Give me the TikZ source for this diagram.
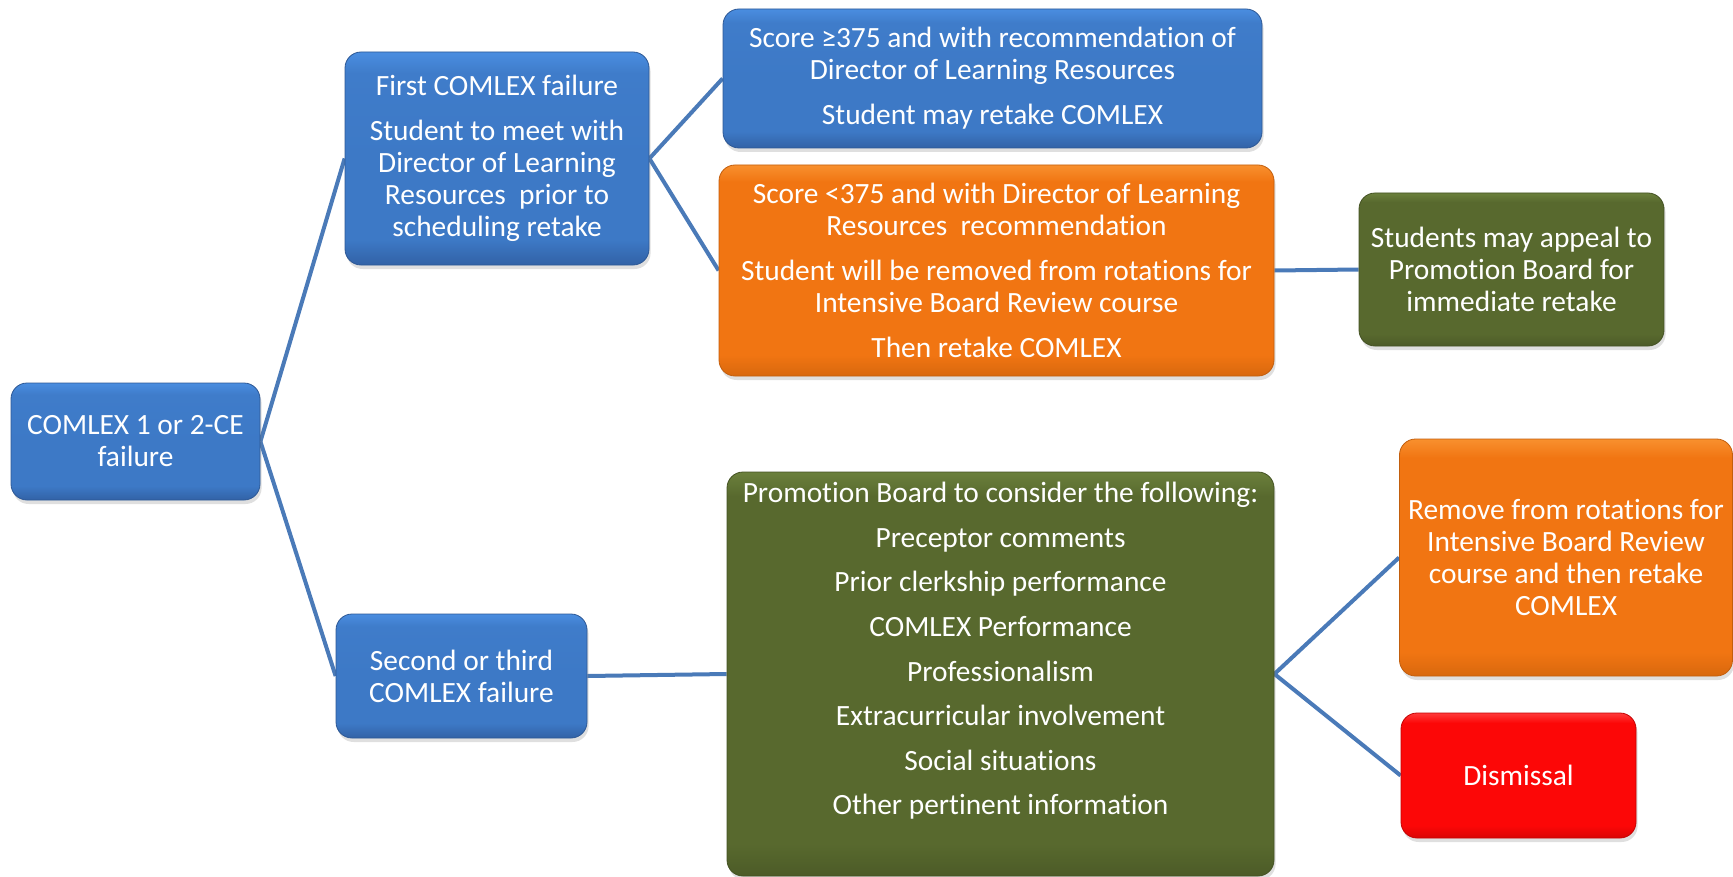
\documentclass[tikz,border=0pt]{standalone}
\usepackage{fontspec}
\setmainfont{Carlito}[Ligatures=ResetAll,RawFeature={-liga;-clig;-dlig;-calt}]
\usetikzlibrary{shadows,backgrounds}
\definecolor{bluetop}{HTML}{4A8DE0}
\definecolor{bluemid}{HTML}{3D79C6}
\definecolor{bluebot}{HTML}{3262A6}
\definecolor{orgtop}{HTML}{F8902E}
\definecolor{orgmid}{HTML}{F17512}
\definecolor{orgbot}{HTML}{D8680E}
\definecolor{grntop}{HTML}{6B803C}
\definecolor{grnmid}{HTML}{58692E}
\definecolor{grnbot}{HTML}{4C5B27}
\definecolor{redtop}{HTML}{FF3A3A}
\definecolor{redmid}{HTML}{FC0707}
\definecolor{redbot}{HTML}{DA0505}
\definecolor{linkc}{HTML}{4A7AB8}
\pgfdeclareverticalshading{blueshade}{100bp}{color(0bp)=(bluebot); color(25bp)=(bluebot); color(31bp)=(bluemid); color(50bp)=(bluemid); color(70bp)=(bluemid!85!bluetop); color(75bp)=(bluetop); color(100bp)=(bluetop)}
\pgfdeclareverticalshading{orgshade}{100bp}{color(0bp)=(orgbot); color(25bp)=(orgbot); color(30bp)=(orgmid); color(71bp)=(orgmid); color(75bp)=(orgtop); color(100bp)=(orgtop)}
\pgfdeclareverticalshading{grnshade}{100bp}{color(0bp)=(grnbot); color(25bp)=(grnbot); color(29bp)=(grnmid); color(72bp)=(grnmid); color(75bp)=(grntop); color(100bp)=(grntop)}
\pgfdeclareverticalshading{redshade}{100bp}{color(0bp)=(redbot); color(25bp)=(redbot); color(30bp)=(redmid); color(71bp)=(redmid); color(75bp)=(redtop); color(100bp)=(redtop)}
\tikzset{
  box/.style={rounded corners=8pt, align=center, text=white, inner sep=0pt,
    font=\fontsize{14.7}{16}\selectfont, line width=0.4pt,
    drop shadow={shadow xshift=0.8pt, shadow yshift=-2pt, opacity=0.25}},
  bluebox/.style={box, shading=blueshade, draw=bluebot!90!black},
  orgbox/.style={box, shading=orgshade, draw=orgbot!90!black},
  grnbox/.style={box, shading=grnshade, draw=grnbot!90!black},
  redbox/.style={box, shading=redshade, draw=redbot!90!black},
  link/.style={draw=linkc, line width=2pt},
  boxtext/.style={align=center, text=white, inner sep=0pt, font=\fontsize{14.7}{16}\selectfont}
}
\begin{document}
\begin{tikzpicture}[x=0.5pt,y=-0.5pt]
\useasboundingbox (0,0) rectangle (1733,877);
\node[bluebox, minimum width=124.5pt, minimum height=58.5pt] (root) at (135.5,441.5)
  {COMLEX 1 or 2-CE\\failure};
\node[bluebox, minimum width=152pt, minimum height=106.5pt] (first) at (497,158.5)
  {First COMLEX failure\\[6.5pt]Student to meet with\\Director of Learning\\Resources\ \ prior to\\scheduling retake};
\node[bluebox, minimum width=269.5pt, minimum height=69.5pt] (hi) at (992.5,78.5)
  {Score ≥375 and with recommendation of\\Director of Learning Resources\\[6.5pt]Student may retake COMLEX};
\node[orgbox, minimum width=277.5pt, minimum height=105.5pt] (lo) at (996.5,270.5)
  {Score <375 and with Director of Learning\\Resources\ \ recommendation\\[6.5pt]Student will be removed from rotations for\\Intensive Board Review course\\[6.5pt]Then retake COMLEX};
\node[grnbox, minimum width=152.5pt, minimum height=76.5pt] (appeal) at (1511.5,269.5)
  {Students may appeal to\\Promotion Board for\\immediate retake};
\node[bluebox, minimum width=125.5pt, minimum height=62pt] (second) at (461.5,676)
  {Second or third\\COMLEX failure};
\node[grnbox, minimum width=273.5pt, minimum height=202pt] (pb) at (1000.5,674) {};
\node[boxtext] (pbtext) at (1000.5,651)
  {Promotion Board to consider the following:\\[6.3pt]Preceptor comments\\[6.3pt]Prior clerkship performance\\[6.3pt]COMLEX Performance\\[6.3pt]Professionalism\\[6.3pt]Extracurricular involvement\\[6.3pt]Social situations\\[6.3pt]Other pertinent information};
\node[orgbox, minimum width=166.5pt, minimum height=118.5pt] (remove) at (1566,557.5)
  {Remove from rotations for\\Intensive Board Review\\course and then retake\\COMLEX};
\node[redbox, minimum width=117.5pt, minimum height=62.5pt] (dismiss) at (1518.5,775.5)
  {Dismissal};
\begin{scope}[on background layer]
\draw[link] (root.east) -- (first.west);
\draw[link] (root.east) -- (second.west);
\draw[link] (first.east) -- (hi.west);
\draw[link] (first.east) -- (lo.west);
\draw[link] (lo.east) -- (appeal.west);
\draw[link] (second.east) -- (pb.west);
\draw[link] (pb.east) -- (remove.west);
\draw[link] (pb.east) -- (dismiss.west);
\end{scope}
\end{tikzpicture}
\end{document}
